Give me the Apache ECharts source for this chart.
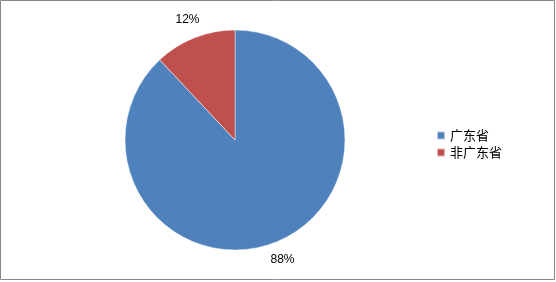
<!DOCTYPE html>
<html>
<head>
<meta charset="utf-8">
<script src="https://cdn.jsdelivr.net/npm/echarts@6/dist/echarts.min.js"></script>
<style>
html,body{margin:0;padding:0;background:#fff;}
#main{width:556px;height:282px;}
</style>
</head>
<body>
<div id="main"></div>
<script>
const categories = ['广东省', '非广东省'];
const values = [88, 12];
const colors = ['#4F81BD', '#C0504D'];

const data = categories.map((c, i) => ({ name: c, value: values[i], itemStyle: { color: colors[i] } }));
const total = values.reduce((a, b) => a + b, 0);

const chart = echarts.init(document.getElementById('main'), null, { renderer: 'canvas' });
chart.setOption({
  animation: false,
  backgroundColor: '#fff',
  graphic: [{
    type: 'rect',
    shape: { x: 0.5, y: 0.5, width: 554, height: 279 },
    style: { fill: 'none', stroke: '#888888', lineWidth: 1 },
    silent: true
  }],
  legend: {
    orient: 'vertical',
    left: 431,
    top: 124,
    itemWidth: 8,
    itemHeight: 8,
    itemGap: 4,
    icon: 'rect',
    data: categories,
    textStyle: { fontFamily: 'Noto Sans CJK SC', fontSize: 13, color: '#000', padding: [0, 0, 0, 0] }
  },
  series: [
    {
      type: 'pie',
      center: [235, 140],
      radius: [0, 110],
      startAngle: 90,
      clockwise: true,
      data: data,
      itemStyle: { borderColor: 'rgba(255,255,255,0.6)', borderWidth: 0.8 },
      label: { show: false },
      labelLine: { show: false },
      emphasis: { disabled: true }
    },
    {
      type: 'pie',
      center: [235, 140],
      radius: [120, 132],
      startAngle: 90,
      clockwise: true,
      silent: true,
      data: categories.map((c, i) => ({ name: c, value: values[i] })),
      itemStyle: { color: 'rgba(0,0,0,0)' },
      label: {
        show: true,
        position: 'inside',
        formatter: p => Math.round(p.value / total * 100) + '%',
        color: '#000',
        fontSize: 12,
        fontFamily: 'Liberation Sans'
      },
      labelLine: { show: false },
      emphasis: { disabled: true }
    }
  ]
});
</script>
</body>
</html>
